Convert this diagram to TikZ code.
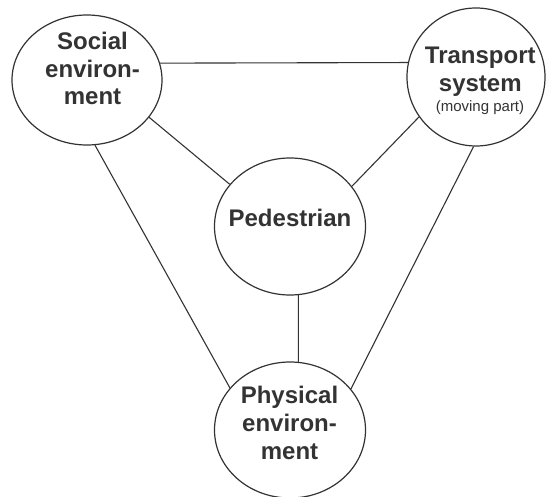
\documentclass[tikz,border=0pt]{standalone}
\usepackage{fontspec}
\setmainfont{Liberation Sans}
\usetikzlibrary{shapes.geometric}
\definecolor{dg}{RGB}{51,51,51}
\tikzset{
  bub/.style={draw=dg, line width=1.2pt, ellipse, inner sep=0pt, fill=white},
  big/.style={font=\bfseries\fontsize{24}{28}\selectfont, text=dg, anchor=base, inner sep=0pt},
  small/.style={font=\fontsize{15}{17}\selectfont, text=dg, anchor=base, inner sep=0pt},
  link/.style={draw=dg, line width=1.1pt}
}
\begin{document}
\begin{tikzpicture}[x=1pt,y=-1pt]
\useasboundingbox (0,0) rectangle (546,497);
% bubbles
\node[bub, minimum width=150pt, minimum height=130pt] (soc) at (87,80) {};
\node[bub, minimum width=138pt, minimum height=138pt] (trn) at (476,77) {};
\node[bub, minimum width=151pt, minimum height=137pt] (ped) at (290,226.5) {};
\node[bub, minimum width=151pt, minimum height=136pt] (phy) at (290,430) {};
% texts
\node[big] (soc1) at (92.5,50) {Social};
\node[big] (soc2) at (92.5,77.5) {environ-};
\node[big] (soc3) at (92.5,105) {ment};
\node[big] (trn1) at (480.3,64) {Transport};
\node[big] (trn2) at (480.3,91.7) {system};
\node[small] (trn3) at (480,111.5) {(moving part)};
\node[big] (ped1) at (290,226.7) {Pedestrian};
\node[big] (phy1) at (289.5,403.3) {Physical};
\node[big] (phy2) at (289.5,431.5) {environ-};
\node[big] (phy3) at (289.5,459.3) {ment};
% links
\draw[link] (soc.13.2) -- (trn.168.3);
\draw[link] (soc.-31.2) -- (ped.145.3);
\draw[link] (trn.215.7) -- (ped.33.2);
\draw[link] (soc.-83) -- (phy.145.9);
\draw[link] (trn.-92.5) -- (phy.34.1);
\draw[link] (ped.-83) -- (phy.83);
\end{tikzpicture}
\end{document}
